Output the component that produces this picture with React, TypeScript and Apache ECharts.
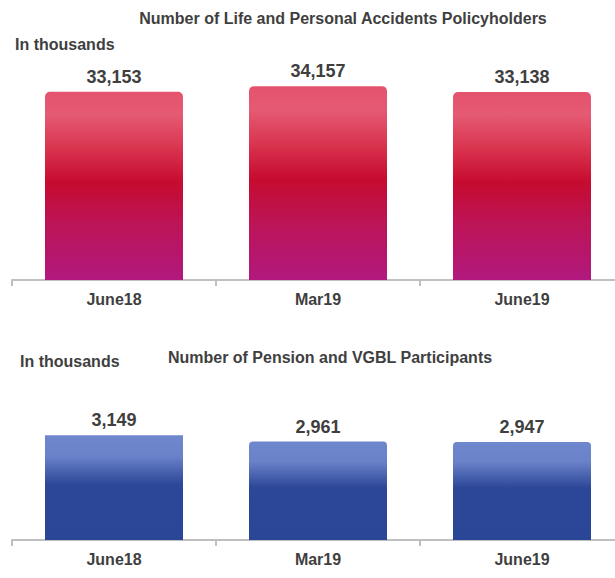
import React, { useEffect, useRef } from "react";
import * as echarts from "echarts";

// Reporting periods shared by both panels
const categories = ["June18", "Mar19", "June19"];
// Life and personal accidents policyholders (thousands)
const policyholders = [33153, 34157, 33138];
// Pension and VGBL participants (thousands)
const participants = [3149, 2961, 2947];

const FONT = "'Liberation Sans', Arial, sans-serif";
const TEXT = "#3f3f3f";
const AXIS = "#bfbfbf";

const fmt = (v: number) => v.toLocaleString("en-US");

const redFill = new echarts.graphic.LinearGradient(0, 0, 0, 1, [
  { offset: 0, color: "#e4536d" },
  { offset: 0.12, color: "#e55a73" },
  { offset: 0.3, color: "#d9344f" },
  { offset: 0.48, color: "#c60b2f" },
  { offset: 0.7, color: "#bc1456" },
  { offset: 1, color: "#b1197e" },
]);

const blueFill = new echarts.graphic.LinearGradient(0, 0, 0, 1, [
  { offset: 0, color: "#6f87cd" },
  { offset: 0.2, color: "#6a82c8" },
  { offset: 0.47, color: "#2d4798" },
  { offset: 1, color: "#2a4696" },
]);

const catAxis = (gridIndex: number) => ({
  type: "category" as const,
  gridIndex,
  data: categories,
  axisLine: { show: true, lineStyle: { color: AXIS, width: 2 } },
  axisTick: { show: true, alignWithLabel: false, length: 6, lineStyle: { color: AXIS, width: 2 } },
  axisLabel: { color: TEXT, fontFamily: FONT, fontWeight: "bold" as const, fontSize: 16, margin: 11 },
});

const valAxis = (gridIndex: number, max: number) => ({
  type: "value" as const,
  gridIndex,
  min: 0,
  max,
  show: false,
  splitLine: { show: false },
});

const valueLabel = {
  show: true,
  position: "top" as const,
  distance: 6,
  color: TEXT,
  fontFamily: FONT,
  fontWeight: "bold" as const,
  fontSize: 18,
  formatter: (p: any) => fmt(p.value),
};

const headText = (text: string, x: number, y: number, size: number, align: string) => ({
  type: "text" as const,
  x,
  y,
  style: {
    text,
    fill: TEXT,
    font: `bold ${size}px ${FONT}`,
    textAlign: align,
    textVerticalAlign: "middle",
  },
});

export default function App() {
  const ref = useRef<HTMLDivElement>(null);

  useEffect(() => {
    if (!ref.current) return;
    const chart = echarts.init(ref.current, undefined, { renderer: "svg" });
    chart.setOption({
      animation: false,
      backgroundColor: "#ffffff",
      graphic: [
        headText("Number of Life and Personal Accidents Policyholders", 343, 18, 16, "center"),
        headText("In thousands", 15, 44, 16, "left"),
        headText("In thousands", 20, 361, 16, "left"),
        headText("Number of Pension and VGBL Participants", 330, 357, 16, "center"),
      ],
      // each category slot is 204px wide; the last tick falls past the visible edge
      grid: [
        { left: 12, width: 612, top: 53, height: 227 },
        { left: 12, width: 612, top: 407, height: 133 },
      ],
      xAxis: [catAxis(0), catAxis(1)],
      yAxis: [valAxis(0, 40000), valAxis(1, 4000)],
      series: [
        {
          type: "bar",
          xAxisIndex: 0,
          yAxisIndex: 0,
          barWidth: 138,
          data: policyholders,
          itemStyle: { color: redFill, borderRadius: [5, 5, 0, 0] },
          label: valueLabel,
        },
        {
          type: "bar",
          xAxisIndex: 1,
          yAxisIndex: 1,
          barWidth: 138,
          data: participants.map((v, i) => ({
            value: v,
            itemStyle: { borderRadius: i === 0 ? 0 : [4, 4, 0, 0] },
          })),
          itemStyle: { color: blueFill },
          label: valueLabel,
        },
      ],
    });
    return () => chart.dispose();
  }, []);

  return (
    <div
      style={{
        position: "absolute",
        left: 0,
        top: 0,
        width: 615,
        height: 578,
        overflow: "hidden",
        background: "#ffffff",
      }}
    >
      <div ref={ref} style={{ width: 640, height: 578 }} />
    </div>
  );
}
